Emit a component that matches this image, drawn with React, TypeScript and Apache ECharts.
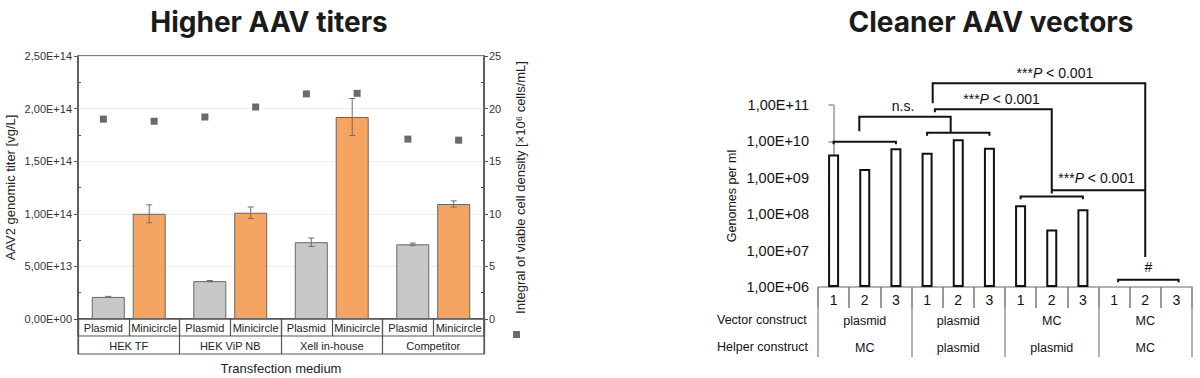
import React, { useEffect, useRef } from 'react';
import * as echarts from 'echarts';

// ---------- Left chart data ----------
const MEDIA = ['HEK TF', 'HEK ViP NB', 'Xell in-house', 'Competitor'];
const CONSTRUCTS = ['Plasmid', 'Minicircle'];
const PLASMID_TITER = [2.1e13, 3.6e13, 7.3e13, 7.1e13];
const PLASMID_ERR = [0.05e13, 0.06e13, 0.4e13, 0.12e13];
const MINICIRCLE_TITER = [1.0e14, 1.01e14, 1.92e14, 1.093e14];
const MINICIRCLE_ERR = [8.5e12, 5.5e12, 1.76e13, 3.0e12];
const IVCD_PLASMID = [19.0, 19.2, 21.4, 17.1];
const IVCD_MINICIRCLE = [18.8, 20.15, 21.45, 17.0];
const TITER_AXIS = { min: 0, max: 2.5e14, interval: 5e13 };
const IVCD_AXIS = { min: 0, max: 25, interval: 5 };

// ---------- Right chart data ----------
const REPLICATES = ['1', '2', '3', '1', '2', '3', '1', '2', '3', '1', '2', '3'];
const VECTOR_CONSTRUCT = ['plasmid', 'plasmid', 'MC', 'MC'];
const HELPER_CONSTRUCT = ['MC', 'plasmid', 'plasmid', 'MC'];
const GENOMES = [4.4e9, 1.74e9, 6.5e9, 4.9e9, 1.14e10, 6.7e9, 1.77e8, 3.8e7, 1.37e8, null, null, null];
const GENOME_AXIS = { min: 1e6, max: 1e11 };

// Significance brackets: [category position, log10(genomes)]
const BRACKETS: number[][][] = [
  [[0, 9.919], [0, 9.99], [2, 9.99], [2, 9.919]],
  [[3, 10.155], [3, 10.238], [5, 10.238], [5, 10.155]],
  [[0.825, 10.28], [0.825, 10.68], [3.757, 10.68], [3.757, 10.26]],
  [[3.25, 10.8], [3.25, 10.882], [7.0, 10.882], [7.0, 8.57]],
  [[3.18, 11.047], [3.18, 11.597], [10.0, 11.597], [10.0, 6.826]],
  [[7.0, 8.661], [10.0, 8.661]],
  [[6, 8.413], [6, 8.488], [8, 8.488], [8, 8.413]],
  [[9.13, 6.13], [9.13, 6.2], [11.07, 6.2], [11.07, 6.13]],
];
const BRACKET_LABELS: { x: number; e: number; text: string }[] = [
  { x: 2.23, e: 10.98, text: 'n.s.' },
  { x: 5.39, e: 11.157, text: '***{i|P} < 0.001' },
  { x: 7.1, e: 11.889, text: '***{i|P} < 0.001' },
  { x: 8.44, e: 8.983, text: '***{i|P} < 0.001' },
  { x: 10.1, e: 6.55, text: '#' },
];

const FONT = '"Liberation Sans", Arial, Helvetica, sans-serif';
const TITLE_FONT = 'Inter, "Noto Sans", sans-serif';
const BAR_W = 33;
const BAR_GAP = 0.24;

function sci(v: number): string {
  const [m, e] = Number(v).toExponential(2).split('e');
  const n = parseInt(e, 10);
  return m.replace('.', ',') + 'E' + (n < 0 ? '-' : '+') + String(Math.abs(n)).padStart(2, '0');
}

export default function App() {
  const ref = useRef<HTMLDivElement>(null);

  useEffect(() => {
    document.body.style.margin = '0';
    if (!ref.current) return;
    const chart = echarts.init(ref.current, undefined, { renderer: 'svg' });

    const cells: string[] = [];
    MEDIA.forEach(() => CONSTRUCTS.forEach((c) => cells.push(c)));
    const ivcdCells: number[][] = [];
    MEDIA.forEach((_, i) => {
      ivcdCells.push([2 * i, IVCD_PLASMID[i]]);
      ivcdCells.push([2 * i + 1, IVCD_MINICIRCLE[i]]);
    });
    const errData: number[][] = [];
    MEDIA.forEach((_, i) => {
      errData.push([i, PLASMID_TITER[i], PLASMID_ERR[i], 0]);
      errData.push([i, MINICIRCLE_TITER[i], MINICIRCLE_ERR[i], 1]);
    });

    const hiddenX = (gridIndex: number) => ({ type: 'category', gridIndex, show: false, data: ['a'] });
    const hiddenY = (gridIndex: number) => ({ type: 'value', gridIndex, show: false });

    const option: any = {
      animation: false,
      textStyle: { fontFamily: FONT },
      grid: [
        { left: 78, top: 56, width: 406, height: 263, show: true, borderColor: '#555', borderWidth: 1.5, outerBoundsMode: 'none', containLabel: false },
        { left: 78, top: 319, width: 406, height: 17, show: true, borderColor: '#555', borderWidth: 1.2, backgroundColor: 'transparent', outerBoundsMode: 'none', containLabel: false },
        { left: 78, top: 319, width: 406, height: 35, show: true, borderColor: '#555', borderWidth: 1.2, backgroundColor: 'transparent', outerBoundsMode: 'none', containLabel: false },
        { left: 818, top: 105, width: 374, height: 182, show: false, outerBoundsMode: 'none', containLabel: false },
      ],
      legend: {
        show: true,
        data: [{ name: 'IVCD', icon: 'rect' }],
        left: 513,
        top: 331,
        itemWidth: 7,
        itemHeight: 7,
        padding: 0,
        itemGap: 0,
        selectedMode: false,
        formatter: () => '',
      },
      xAxis: [
        {
          type: 'category', gridIndex: 0, data: MEDIA, position: 'bottom',
          axisLine: { show: false },
          axisTick: { show: true, length: 35, interval: 0, lineStyle: { color: '#555', width: 1.2 } },
          axisLabel: { interval: 0, margin: 21, fontSize: 11, color: '#222' },
          splitLine: { show: false },
          name: 'Transfection medium', nameLocation: 'middle', nameGap: 43, nameMoveOverlap: false,
          nameTextStyle: { fontSize: 13, color: '#222' },
        },
        {
          type: 'category', gridIndex: 0, data: cells, position: 'bottom',
          axisLine: { show: true, lineStyle: { color: '#555', width: 1.5 } },
          axisTick: { show: true, length: 17, interval: 0, lineStyle: { color: '#555', width: 1.2 } },
          axisLabel: { interval: 0, margin: 3, fontSize: 11, color: '#222' },
          splitLine: { show: false },
        },
        hiddenX(1),
        hiddenX(2),
        {
          type: 'category', gridIndex: 3, data: REPLICATES, position: 'bottom',
          axisLine: { show: true, lineStyle: { color: '#999', width: 1.5 } },
          axisTick: { show: true, length: 21, interval: 0, lineStyle: { color: '#777', width: 1.5 } },
          axisLabel: { interval: 0, margin: 6, fontSize: 14, color: '#111' },
          splitLine: { show: false },
        },
        {
          type: 'category', gridIndex: 3, data: VECTOR_CONSTRUCT, position: 'bottom',
          axisLine: { show: false },
          axisTick: { show: true, length: 70, interval: 0, lineStyle: { color: '#999', width: 1.5 } },
          axisLabel: { interval: 0, margin: 27, fontSize: 12.5, color: '#111' },
          splitLine: { show: false },
        },
        {
          type: 'category', gridIndex: 3, data: HELPER_CONSTRUCT, position: 'bottom',
          axisLine: { show: false }, axisTick: { show: false },
          axisLabel: { interval: 0, margin: 54, fontSize: 12.5, color: '#111' },
          splitLine: { show: false },
        },
        { type: 'value', gridIndex: 3, min: -0.5, max: 11.5, show: false },
      ],
      yAxis: [
        {
          type: 'value', gridIndex: 0, position: 'left', ...TITER_AXIS,
          axisLine: { show: true, lineStyle: { color: '#555', width: 1.5 } },
          axisTick: { show: true, length: 4, inside: false, lineStyle: { color: '#555' } },
          minorTick: { show: true, splitNumber: 2, length: -3, lineStyle: { color: '#555' } },
          splitLine: { show: true, lineStyle: { color: '#eeeeee', width: 1 } },
          axisLabel: { formatter: (v: number) => sci(v), margin: 6, fontSize: 11, color: '#333' },
          name: 'AAV2 genomic titer [vg/L]', nameLocation: 'middle', nameGap: 61, nameMoveOverlap: false,
          nameTextStyle: { fontSize: 13, color: '#222' },
        },
        {
          type: 'value', gridIndex: 0, position: 'right', ...IVCD_AXIS,
          axisLine: { show: true, lineStyle: { color: '#555', width: 1.5 } },
          axisTick: { show: true, length: 4, inside: false, lineStyle: { color: '#555' } },
          minorTick: { show: true, splitNumber: 2, length: -3, lineStyle: { color: '#555' } },
          splitLine: { show: false },
          axisLabel: { margin: 5, fontSize: 11, color: '#333' },
          name: 'Integral of viable cell density [×10⁶ cells/mL]', nameLocation: 'middle', nameGap: 30, nameMoveOverlap: false,
          nameTextStyle: { fontSize: 13, color: '#222' },
        },
        hiddenY(1),
        hiddenY(2),
        {
          type: 'log', gridIndex: 3, logBase: 10, ...GENOME_AXIS, startValue: GENOME_AXIS.min,
          axisLine: { show: true, lineStyle: { color: '#999', width: 1.5 } },
          axisTick: { show: true, length: 5, inside: false, lineStyle: { color: '#999', width: 1.5 } },
          minorTick: { show: false },
          splitLine: { show: false },
          axisLabel: { formatter: (v: number) => sci(v), margin: 9, fontSize: 14.5, color: '#111' },
          name: 'Genomes per ml', nameLocation: 'middle', nameGap: 80, nameMoveOverlap: false,
          nameTextStyle: { fontSize: 12.5, color: '#111' },
        },
      ],
      series: [
        {
          type: 'bar', name: 'Plasmid', xAxisIndex: 0, yAxisIndex: 0, data: PLASMID_TITER,
          barWidth: BAR_W, barGap: `${BAR_GAP * 100}%`,
          itemStyle: { color: '#c8c8c8', borderColor: '#666', borderWidth: 1 },
        },
        {
          type: 'bar', name: 'Minicircle', xAxisIndex: 0, yAxisIndex: 0, data: MINICIRCLE_TITER,
          barWidth: BAR_W, barGap: `${BAR_GAP * 100}%`,
          itemStyle: { color: '#f5a462', borderColor: '#666', borderWidth: 1 },
        },
        {
          type: 'custom', name: 'err', xAxisIndex: 0, yAxisIndex: 0, data: errData, z: 5, silent: true,
          renderItem: (params: any, api: any) => {
            const g = api.value(0), v = api.value(1), e = api.value(2), s = api.value(3);
            const c = api.coord([g, v]);
            const off = (BAR_W * (1 + BAR_GAP)) / 2;
            const x = c[0] + (s === 0 ? -off : off);
            const yt = api.coord([g, v + e])[1];
            const yb = api.coord([g, v - e])[1];
            const st = { stroke: '#7d6a5c', lineWidth: 1 };
            return {
              type: 'group',
              children: [
                { type: 'line', shape: { x1: x, y1: yt, x2: x, y2: yb }, style: st },
                { type: 'line', shape: { x1: x - 3, y1: yt, x2: x + 3, y2: yt }, style: st },
                { type: 'line', shape: { x1: x - 3, y1: yb, x2: x + 3, y2: yb }, style: st },
              ],
            };
          },
        },
        {
          type: 'scatter', name: 'IVCD', xAxisIndex: 1, yAxisIndex: 1, data: ivcdCells,
          symbol: 'rect', symbolSize: 7, itemStyle: { color: '#454545' }, z: 6,
        },
        {
          type: 'bar', name: 'Genomes', xAxisIndex: 4, yAxisIndex: 4, data: GENOMES,
          barWidth: 11, clip: true,
          itemStyle: { color: '#ffffff', borderColor: '#111', borderWidth: 2 },
        },
        {
          type: 'custom', name: 'brackets', xAxisIndex: 7, yAxisIndex: 4, clip: false, silent: true, z: 5,
          data: BRACKETS.map((_, i) => [i, 1e8]),
          renderItem: (params: any, api: any) => {
            const pts = BRACKETS[params.dataIndex].map(([x, e]) => api.coord([x, Math.pow(10, e)]));
            return { type: 'polyline', shape: { points: pts }, style: { stroke: '#111', lineWidth: 2, fill: 'none' } };
          },
        },
        {
          type: 'custom', name: 'bracketLabels', xAxisIndex: 7, yAxisIndex: 4, clip: false, silent: true, z: 5,
          data: BRACKET_LABELS.map((l) => [l.x, Math.pow(10, l.e)]),
          renderItem: (params: any, api: any) => {
            const l = BRACKET_LABELS[params.dataIndex];
            const p = api.coord([l.x, Math.pow(10, l.e)]);
            return {
              type: 'text', x: p[0], y: p[1],
              style: {
                text: l.text, fontSize: 14, fontFamily: FONT, fill: '#111',
                align: 'center', verticalAlign: 'middle',
                rich: { i: { fontStyle: 'italic', fontSize: 14, fontFamily: FONT, fill: '#111' } },
              },
            };
          },
        },
      ],
      graphic: [
        { type: 'text', x: 269, y: 22, style: { text: 'Higher AAV titers', font: `700 28px ${TITLE_FONT}`, fill: '#1b1b1b', align: 'center', verticalAlign: 'middle' } },
        { type: 'text', x: 991, y: 22, style: { text: 'Cleaner AAV vectors', font: `700 28px ${TITLE_FONT}`, fill: '#1b1b1b', align: 'center', verticalAlign: 'middle' } },
        { type: 'text', x: 717, y: 320, style: { text: 'Vector construct', font: `12.5px ${FONT}`, fill: '#111', align: 'left', verticalAlign: 'middle' } },
        { type: 'text', x: 717, y: 347, style: { text: 'Helper construct', font: `12.5px ${FONT}`, fill: '#111', align: 'left', verticalAlign: 'middle' } },
      ],
    };

    chart.setOption(option);
    return () => chart.dispose();
  }, []);

  return <div ref={ref} style={{ width: 1200, height: 378 }} />;
}
